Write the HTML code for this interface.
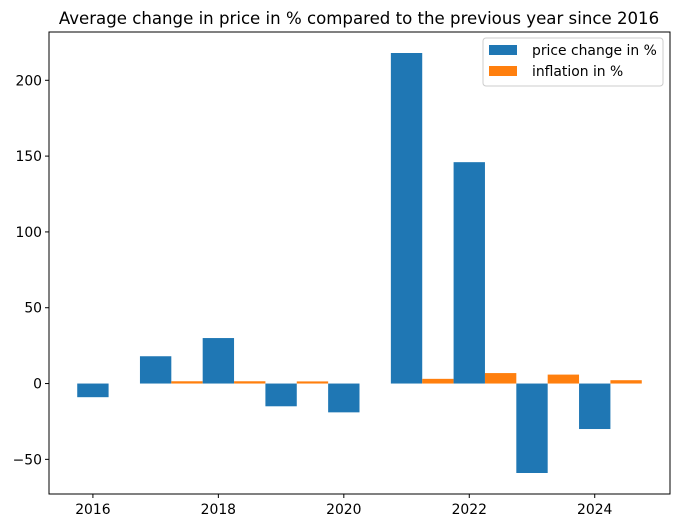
<!DOCTYPE html>
<html><head><meta charset="utf-8"><style>
body{margin:0;background:#fff;font-family:"DejaVu Sans","Liberation Sans",sans-serif}
</style></head><body>
<svg width="678" height="528" viewBox="0 0 678 528" id="c" font-family="DejaVu Sans, Liberation Sans, sans-serif">
<rect width="678" height="528" fill="#fff"/>
<text x="359" y="24" text-anchor="middle" font-size="16.6" fill="#000">Average change in price in % compared to the previous year since 2016</text>
<g id="bars"></g>
<rect x="49" y="32" width="621" height="462" fill="none" stroke="#000" stroke-width="1"/>
<g id="axes"></g>
<g>
<rect x="483" y="38" width="180" height="48" rx="3" fill="#fff" fill-opacity="0.8" stroke="#ccc"/>
<rect x="489" y="45" width="28" height="10" fill="#1f77b4"/>
<text x="532" y="55" font-size="13.9">price change in %</text>
<rect x="489" y="66" width="28" height="10" fill="#ff7f0e"/>
<text x="532" y="76" font-size="13.9">inflation in %</text>
</g>
</svg>
<script>
const years=[2016,2017,2018,2019,2020,2021,2022,2023,2024];
const priceChange=[-9,18,30,-15,-19,218,146,-59,-30];
const inflation=[0,1.5,1.5,1.4,0,3.1,6.9,5.9,2.2];
const yTicks=[-50,0,50,100,150,200];
const xTicks=[2016,2018,2020,2022,2024];
const L=49,R=670,T=32,B=494,X0=2015.3,X1=2025.2,Y0=-72.85,Y1=231.85;
const sx=v=>L+(v-X0)*(R-L)/(X1-X0);
const sy=v=>B-(v-Y0)*(B-T)/(Y1-Y0);
const NS="http://www.w3.org/2000/svg";
const bars=document.getElementById('bars'),axes=document.getElementById('axes');
function bar(x0,x1,v,color,name){
 const r=document.createElementNS(NS,'rect');
 const a=sy(Math.max(v,0)),b=sy(Math.min(v,0));
 r.setAttribute('x',sx(x0));r.setAttribute('width',sx(x1)-sx(x0));
 r.setAttribute('y',a);r.setAttribute('height',Math.max(b-a,0));
 r.setAttribute('fill',color);
 
 
 bars.appendChild(r);
}
years.forEach((y,i)=>{
 bar(y-0.25,y+0.25,priceChange[i],'#1f77b4','bar-price-'+y);
 bar(y+0.25,y+0.75,inflation[i],'#ff7f0e','bar-inflation-'+y);
});
function line(x1,y1,x2,y2){const l=document.createElementNS(NS,'line');l.setAttribute('x1',x1);l.setAttribute('y1',y1);l.setAttribute('x2',x2);l.setAttribute('y2',y2);l.setAttribute('stroke','#000');


axes.appendChild(l);}
function text(x,y,s,anchor,name){const t=document.createElementNS(NS,'text');t.setAttribute('x',x);t.setAttribute('y',y);t.setAttribute('text-anchor',anchor);t.setAttribute('font-size','13.9');t.textContent=s;


axes.appendChild(t);}
yTicks.forEach(v=>{const y=sy(v);line(L-4,y,L,y);text(L-7,y+5,String(v).replace('-','\u2212'),'end','y-tick-label');});
xTicks.forEach(v=>{const x=sx(v);line(x,B,x,B+4);text(x,B+20,String(v),'middle','x-tick-label');});
</script>
</body></html>
